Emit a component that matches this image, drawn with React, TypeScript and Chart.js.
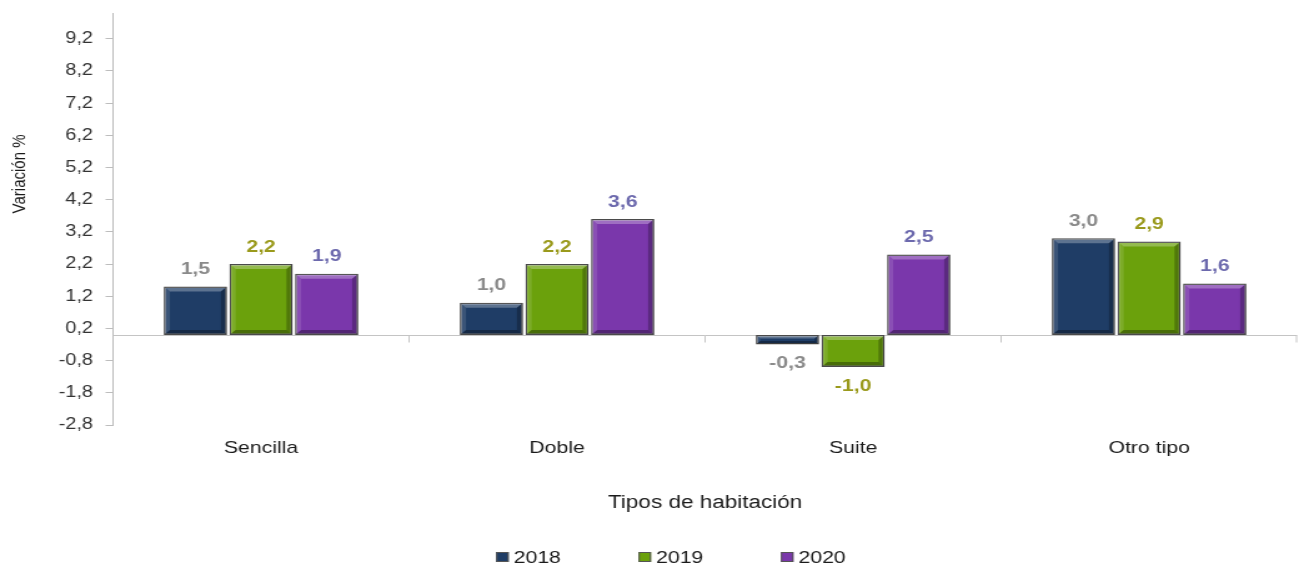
import React, { useEffect, useRef } from "react";
import { Chart, registerables } from "chart.js";

Chart.register(...registerables);

const categories = ["Sencilla", "Doble", "Suite", "Otro tipo"];
const seriesNames = ["2018", "2019", "2020"];
const values2018 = [1.5, 1.0, -0.3, 3.0];
const values2019 = [2.2, 2.2, -1.0, 2.9];
const values2020 = [1.9, 3.6, 2.5, 1.6];
const yTickValues = [-2.8, -1.8, -0.8, 0.2, 1.2, 2.2, 3.2, 4.2, 5.2, 6.2, 7.2, 8.2, 9.2];
const yMin = -2.8;
const yMax = 10.0;
const yTitle = "Variación %";
const xTitle = "Tipos de habitación";

const barColors = ["#1f3d66", "#6ba10c", "#7a37ab"];
const labelColors = ["#8a8a8a", "#9a9a1c", "#6c69ad"];

const FONT = "'Liberation Sans', Arial, sans-serif";
const BASE_W = 1040;
const H = 568;
const SX = 1299 / BASE_W;

const fmt = (v: number) => v.toFixed(1).replace(".", ",");

const decorPlugin = {
  id: "decor",
  beforeDatasetsDraw(chart: any) {
    const { ctx, chartArea } = chart;
    const ys = chart.scales.y;
    const xs = chart.scales.x;
    const y0 = Math.round(ys.getPixelForValue(0)) + 0.5;
    ctx.save();
    ctx.strokeStyle = "#c4c4c4";
    ctx.lineWidth = 1;
    ctx.beginPath();
    ctx.moveTo(chartArea.left, y0);
    ctx.lineTo(chartArea.right, y0);
    for (let i = 1; i <= categories.length; i++) {
      const xb = i === categories.length ? chartArea.right - 0.5 : xs.getPixelForValue(i - 0.5);
      ctx.moveTo(xb, y0);
      ctx.lineTo(xb, y0 + 7);
    }
    ctx.stroke();
    ctx.restore();
  },
  afterDatasetsDraw(chart: any) {
    const { ctx } = chart;
    ctx.save();
    // bevel effect on bars
    chart.data.datasets.forEach((ds: any, di: number) => {
      const meta = chart.getDatasetMeta(di);
      meta.data.forEach((el: any) => {
        const p = el.getProps(["x", "y", "base", "width"], true);
        const l = p.x - p.width / 2 + 1;
        const r = p.x + p.width / 2 - 1;
        const t = Math.min(p.y, p.base) + 1;
        const b = Math.max(p.y, p.base) - 1;
        const bv = Math.min(4, (b - t) / 3);
        if (bv <= 0.5) return;
        const bx = bv;
        ctx.fillStyle = "rgba(255,255,255,0.28)";
        ctx.beginPath();
        ctx.moveTo(l, t); ctx.lineTo(r, t); ctx.lineTo(r - bx, t + bv); ctx.lineTo(l + bx, t + bv); ctx.closePath();
        ctx.fill();
        ctx.fillStyle = "rgba(255,255,255,0.12)";
        ctx.beginPath();
        ctx.moveTo(l, t); ctx.lineTo(l + bx, t + bv); ctx.lineTo(l + bx, b - bv); ctx.lineTo(l, b); ctx.closePath();
        ctx.fill();
        ctx.fillStyle = "rgba(0,0,0,0.25)";
        ctx.beginPath();
        ctx.moveTo(r, t); ctx.lineTo(r, b); ctx.lineTo(r - bx, b - bv); ctx.lineTo(r - bx, t + bv); ctx.closePath();
        ctx.fill();
        ctx.fillStyle = "rgba(0,0,0,0.32)";
        ctx.beginPath();
        ctx.moveTo(l, b); ctx.lineTo(r, b); ctx.lineTo(r - bx, b - bv); ctx.lineTo(l + bx, b - bv); ctx.closePath();
        ctx.fill();
      });
    });
    // data labels
    ctx.font = `bold 17px ${FONT}`;
    ctx.textAlign = "center";
    ctx.textBaseline = "middle";
    chart.data.datasets.forEach((ds: any, di: number) => {
      const meta = chart.getDatasetMeta(di);
      ctx.fillStyle = labelColors[di];
      meta.data.forEach((el: any, i: number) => {
        const v = ds.data[i];
        const p = el.getProps(["x", "y"], true);
        const ty = v >= 0 ? p.y - 17 : p.y + 19;
        ctx.fillText(fmt(v), p.x, ty);
      });
    });
    ctx.restore();
  },
  afterDraw(chart: any) {
    const { ctx, chartArea, width } = chart;
    const ys = chart.scales.y;
    ctx.save();
    // y title
    ctx.fillStyle = "#1a1a1a";
    ctx.font = `15px ${FONT}`;
    ctx.textAlign = "center";
    ctx.textBaseline = "middle";
    ctx.translate(16, ys.getPixelForValue(5.0));
    ctx.rotate(-Math.PI / 2);
    ctx.fillText(yTitle, 0, 0);
    ctx.restore();

    ctx.save();
    ctx.fillStyle = "#1a1a1a";
    ctx.font = `18px ${FONT}`;
    ctx.textAlign = "center";
    ctx.textBaseline = "middle";
    ctx.fillText(xTitle, (chartArea.left + chartArea.right) / 2, 503);

    // legend
    ctx.font = `17px ${FONT}`;
    const box = 10;
    const gapText = 4;
    const spacing = 114;
    const textW = seriesNames.map((s) => ctx.measureText(s).width);
    const totalW = spacing * (seriesNames.length - 1) + box + gapText + textW[textW.length - 1];
    const cx = width * 0.5165;
    let x = cx - totalW / 2;
    const ly = 557;
    ctx.textAlign = "left";
    seriesNames.forEach((s, i) => {
      ctx.fillStyle = barColors[i];
      ctx.fillRect(x, ly - box / 2, box, box);
      ctx.strokeStyle = "#555";
      ctx.lineWidth = 1;
      ctx.strokeRect(x + 0.5, ly - box / 2 + 0.5, box - 1, box - 1);
      ctx.fillStyle = "#1a1a1a";
      ctx.fillText(s, x + box + gapText, ly + 1);
      x += spacing;
    });
    ctx.restore();
  },
};

export default function App() {
  const ref = useRef<HTMLCanvasElement | null>(null);
  useEffect(() => {
    document.body.style.margin = "0";
    if (!ref.current) return;
    const seriesValues = [values2018, values2019, values2020];
    const chart = new Chart(ref.current, {
      type: "bar",
      data: {
        labels: categories,
        datasets: seriesNames.map((name, i) => ({
          label: name,
          data: seriesValues[i],
          backgroundColor: barColors[i],
          borderColor: "#4a4a4a",
          borderWidth: 1.5,
          borderSkipped: false,
          barPercentage: 0.965,
          categoryPercentage: 0.665,
        })),
      },
      options: {
        animation: false,
        responsive: true,
        maintainAspectRatio: false,
        layout: { padding: { top: 13, right: 1.5, bottom: 0, left: 0 } },
        plugins: {
          legend: { display: false },
          title: { display: false },
          tooltip: { enabled: false },
        },
        scales: {
          x: {
            grid: { display: false, drawTicks: false },
            border: { display: false },
            ticks: { font: { family: FONT, size: 17 }, color: "#1a1a1a", padding: 13 },
            afterFit: (s: any) => { s.height = 143; s.paddingLeft = 0; s.paddingRight = 0; },
          },
          y: {
            min: yMin,
            max: yMax,
            afterBuildTicks: (s: any) => { s.ticks = yTickValues.map((v) => ({ value: v })); },
            afterFit: (s: any) => { s.width = 90.5; s.paddingTop = 0; s.paddingBottom = 0; },
            border: { display: true, color: "#bdbdbd", width: 1 },
            grid: { display: true, drawOnChartArea: false, drawTicks: true, tickLength: 6, color: "#bdbdbd" },
            ticks: {
              callback: (v: any) => fmt(Number(v)),
              padding: 10,
              font: { family: FONT, size: 16 },
              color: "#333333",
            },
          },
        },
      },
      plugins: [decorPlugin],
    });
    return () => chart.destroy();
  }, []);

  return (
    <div style={{ width: 1299, height: H, overflow: "hidden", background: "#fff" }}>
      <div style={{ width: BASE_W, height: H, position: "relative", transform: `scaleX(${SX})`, transformOrigin: "0 0" }}>
        <canvas ref={ref} />
      </div>
    </div>
  );
}
